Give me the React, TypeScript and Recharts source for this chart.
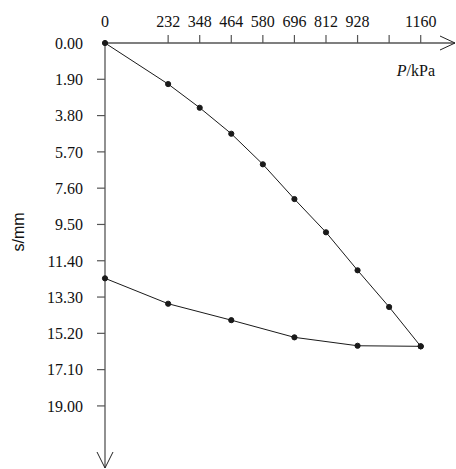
import React from 'react';
import { LineChart, Line, XAxis, YAxis, ReferenceDot, Label } from 'recharts';

const loadP = [0, 232, 348, 464, 580, 696, 812, 928, 1044, 1160];
const loadS = [0, 2.15, 3.39, 4.75, 6.35, 8.17, 9.91, 11.9, 13.82, 15.88];
const unloadP = [1160, 928, 696, 464, 232, 0];
const unloadS = [15.88, 15.85, 15.41, 14.51, 13.65, 12.32];
const xTicks = [0, 232, 348, 464, 580, 696, 812, 928, 1044, 1160];
const xTickLabels = ['0', '232', '348', '464', '580', '696', '812', '928', '', '1160'];
const yTicks = [0, 1.9, 3.8, 5.7, 7.6, 9.5, 11.4, 13.3, 15.2, 17.1, 19.0];

const X_MAX = 1286;
const Y_MAX = 22.25;

const loadData = loadP.map((p, i) => ({ p, s: loadS[i] }));
const unloadData = unloadP.map((p, i) => ({ p, s: unloadS[i] }));

const SERIF = '"Liberation Serif", "Times New Roman", serif';
const AXIS = '#555';
const TICK_SIZE = 8;

const XTick = (props: any) => {
  const { x, y, payload } = props;
  const idx = xTicks.indexOf(payload.value);
  const label = idx >= 0 ? xTickLabels[idx] : String(payload.value);
  const lineTop = y + 8;
  return (
    <g>
      {payload.value !== 0 && (
        <line x1={x} x2={x} y1={lineTop} y2={lineTop + TICK_SIZE} stroke={AXIS} strokeWidth={1.2} />
      )}
      <text x={x} y={y} textAnchor="middle" fontFamily={SERIF} fontSize={16} fill="#111">
        {label}
      </text>
    </g>
  );
};

const YTick = (props: any) => {
  const { x, y, payload } = props;
  const lineRight = x + 14 + TICK_SIZE;
  return (
    <g>
      {payload.value !== 0 && (
        <line x1={lineRight - TICK_SIZE} x2={lineRight} y1={y} y2={y} stroke={AXIS} strokeWidth={1.2} />
      )}
      <text x={x} y={y} dy="0.36em" textAnchor="end" fontFamily={SERIF} fontSize={16} fill="#111">
        {Number(payload.value).toFixed(2)}
      </text>
    </g>
  );
};

const XArrow = (props: any) => {
  const { cx, cy } = props;
  return (
    <path d={`M${cx - 15},${cy - 7} L${cx},${cy} L${cx - 15},${cy + 7}`} fill="none" stroke="#222" strokeWidth={1} />
  );
};

const YArrow = (props: any) => {
  const { cx, cy } = props;
  return (
    <path d={`M${cx - 8},${cy - 16} L${cx},${cy} L${cx + 8},${cy - 16}`} fill="none" stroke="#222" strokeWidth={1} />
  );
};

const XLabel = (props: any) => {
  const vb = props.viewBox || {};
  return (
    <text x={vb.x + vb.width - 20} y={vb.y + vb.height + 33} textAnchor="end" fontFamily={SERIF} fontSize={16} fill="#111">
      <tspan fontStyle="italic">P</tspan>
      <tspan>/kPa</tspan>
    </text>
  );
};

const YLabel = (props: any) => {
  const vb = props.viewBox || {};
  const cx = vb.x + vb.width - 87;
  const cy = vb.y + 189;
  return (
    <text
      x={cx}
      y={cy}
      textAnchor="middle"
      dominantBaseline="central"
      transform={`rotate(-90 ${cx} ${cy})`}
      fontFamily='"Liberation Sans", Arial, sans-serif'
      fontSize={16}
      fill="#111"
    >
      s/mm
    </text>
  );
};

export default function App() {
  return (
    <div style={{ position: 'absolute', left: 0, top: 0, width: 456, height: 469, background: '#fff' }}>
      <LineChart width={456} height={469} margin={{ top: 42, right: 1, bottom: 1, left: 104 }}>
        <XAxis
          type="number"
          dataKey="p"
          orientation="top"
          domain={[0, X_MAX]}
          ticks={xTicks}
          interval={0}
          height={1}
          tickSize={TICK_SIZE}
          tickMargin={8}
          tickLine={false}
          tick={<XTick />}
          axisLine={{ stroke: AXIS, strokeWidth: 1.3 }}
        >
          <Label content={<XLabel />} />
        </XAxis>
        <YAxis
          type="number"
          dataKey="s"
          reversed
          domain={[0, Y_MAX]}
          ticks={yTicks}
          interval={0}
          width={1}
          tickSize={TICK_SIZE}
          tickMargin={14}
          tickLine={false}
          tick={<YTick />}
          axisLine={{ stroke: AXIS, strokeWidth: 1.3 }}
        >
          <Label content={<YLabel />} />
        </YAxis>
        <Line
          data={loadData}
          dataKey="s"
          type="linear"
          stroke="#1a1a1a"
          strokeWidth={1}
          dot={{ r: 2.6, fill: '#1a1a1a', stroke: '#1a1a1a', strokeWidth: 1 }}
          isAnimationActive={false}
        />
        <Line
          data={unloadData}
          dataKey="s"
          type="linear"
          stroke="#1a1a1a"
          strokeWidth={1}
          dot={{ r: 2.6, fill: '#1a1a1a', stroke: '#1a1a1a', strokeWidth: 1 }}
          isAnimationActive={false}
        />
        <ReferenceDot x={X_MAX} y={0} ifOverflow="visible" shape={<XArrow />} />
        <ReferenceDot x={0} y={Y_MAX} ifOverflow="visible" shape={<YArrow />} />
      </LineChart>
    </div>
  );
}
